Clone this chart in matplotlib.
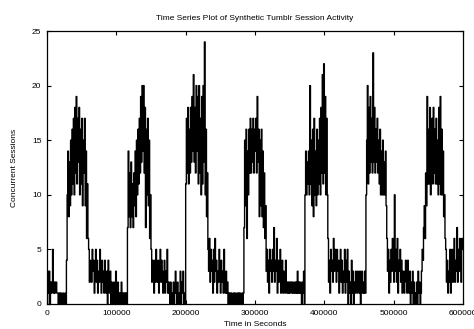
import numpy as np
import matplotlib
matplotlib.use("Agg")
import matplotlib.pyplot as plt

# Sampling interval of the synthetic session trace (seconds)
sample_interval = 1000

# Concurrent sessions, one value per 1000 s
low0 = [0, 1, 3, 3, 0, 2, 1, 2, 5, 1, 2, 1, 2, 2, 1, 1, 0, 1, 1, 0, 1, 0, 0, 1, 0, 0, 1, 0]
peak1 = [4, 10, 14, 8, 13, 9, 15, 10, 16, 11, 17, 10, 18, 12, 19, 11, 17, 13, 18, 10,
         16, 11, 17, 9, 15, 12, 17, 9, 14, 6, 11, 6]
low1 = [5, 2, 4, 3, 2, 5, 3, 4, 1, 3, 5, 2, 4, 1, 3, 2, 5, 3, 1, 4, 2, 3, 1, 4, 2, 1, 3, 0,
        4, 2, 1, 3, 0, 2, 1, 0, 2, 1, 0, 3, 1, 0, 2, 1, 0, 1, 0, 2, 1, 0, 1, 0, 1, 0, 1, 0]
peak2 = [7, 14, 8, 12, 7, 13, 8, 11, 7, 12, 9, 14, 8, 15, 10, 16, 11, 17, 12, 19,
         13, 20, 14, 20, 12, 18, 7, 16, 10, 17, 9, 15, 6, 10]
low2 = [5, 2, 4, 3, 1, 4, 2, 5, 3, 2, 4, 1, 3, 5, 2, 4, 3, 1, 2, 4, 1, 3, 2, 5, 1,
        2, 1, 0, 2, 1, 0, 1, 2, 0, 1, 3, 1, 0, 2, 1, 0, 1, 3, 0, 2, 1, 3, 0, 1, 0]
peak3 = [11, 17, 12, 18, 11, 16, 12, 18, 13, 19, 14, 21, 13, 18, 12, 20, 14, 19, 11, 20,
         12, 17, 10, 19, 11, 20, 13, 24, 10, 16, 8, 12]
low3 = [5, 3, 6, 2, 5, 3, 4, 1, 5, 2, 6, 3, 4, 1, 3, 2, 5, 3, 1, 4, 2, 3, 1, 5, 2, 1,
        3, 1, 2, 0, 1, 0, 1, 0, 1, 0, 0, 1, 0, 1, 0, 0, 1, 0, 1, 0, 1, 0, 0, 1, 0, 1]
peak4 = [7, 15, 9, 16, 6, 14, 10, 16, 12, 17, 12, 16, 13, 17, 12, 16, 14, 17, 12, 19,
         13, 16, 8, 15, 9, 16, 8, 14, 7, 12, 6, 9]
low4 = [3, 5, 2, 4, 1, 5, 3, 4, 2, 5, 3, 7, 2, 4, 3, 6, 1, 4, 2, 3, 5, 1, 2, 4, 1, 3, 2, 1,
        4, 2, 1, 2, 1, 2, 1, 2, 2, 1, 2, 1, 1, 2, 1, 2, 1, 3, 1, 2, 1, 2, 1, 0, 2, 1, 3, 0]
peak5 = [10, 14, 10, 13, 11, 14, 10, 20, 11, 15, 9, 16, 8, 17, 10, 14, 9, 16, 10, 15,
         11, 17, 10, 18, 12, 21, 11, 22, 12, 19, 10, 17, 10, 6]
low5 = [2, 4, 1, 5, 3, 4, 2, 6, 3, 5, 4, 2, 5, 3, 4, 1, 3, 5, 2, 4, 1, 3, 2, 5, 1, 4, 2,
        5, 0, 3, 1, 2, 0, 4, 1, 3, 0, 2, 1, 3, 2, 1, 3, 2, 1, 3, 0, 2, 3, 1, 2, 1, 3, 1]
peak6 = [10, 15, 20, 11, 18, 12, 19, 13, 17, 12, 23, 13, 18, 12, 16, 13, 17, 12, 15, 11,
         16, 10, 14, 10, 15, 10, 13, 10, 14, 9]
low6 = [6, 3, 5, 1, 4, 2, 5, 3, 6, 4, 2, 10, 3, 5, 2, 6, 1, 4, 3, 5, 2, 4, 1, 3, 2,
        1, 3, 4, 2, 1, 4, 2, 1, 3, 0, 2, 1, 3, 0, 2, 1, 0, 1, 2, 0, 3, 1, 2, 0, 1]
peak7 = [3, 5, 4, 7, 9, 6, 12, 9, 19, 11, 16, 11, 18, 10, 14, 17, 11, 18, 12, 16,
         11, 17, 11, 15, 10, 18, 11, 19, 10, 16, 10, 14, 8, 10, 6, 5]
low7 = [2, 4, 1, 3, 2, 5, 1, 3, 5, 2, 4, 6, 2, 4, 3, 7, 2, 5, 3, 6, 4, 2, 6, 5]

segments = [low0, peak1, low1, peak2, low2, peak3, low3, peak4,
            low4, peak5, low5, peak6, low6, peak7, low7]
sessions = np.concatenate([np.asarray(s, dtype=float) for s in segments])
times = np.arange(len(sessions) + 1) * sample_interval
sessions_plot = np.append(sessions, sessions[-1])

x_ticks = [0, 100000, 200000, 300000, 400000, 500000, 600000]
y_ticks = [0, 5, 10, 15, 20, 25]

plt.rcParams['font.family'] = ['Liberation Sans', 'DejaVu Sans']

fig = plt.figure(figsize=(4.74, 3.29), dpi=100)
ax = fig.add_axes([47 / 474, 1 - 304 / 329, (463 - 47) / 474, (304 - 31) / 329])

ax.plot(times, sessions_plot, drawstyle='steps-post', color='black', linewidth=1.0)

ax.set_xlim(0, 600000)
ax.set_ylim(0, 25)
ax.set_xticks(x_ticks)
ax.set_xticklabels([str(v) for v in x_ticks])
ax.set_yticks(y_ticks)
ax.set_yticklabels([str(v) for v in y_ticks])
ax.tick_params(direction='in', length=3, width=0.8, top=True, right=True,
               labelsize=6, pad=4)
for sp in ax.spines.values():
    sp.set_linewidth(0.9)

ax.set_title('Time Series Plot of Synthetic Tumblr Session Activity',
             fontsize=6, pad=8)
ax.set_xlabel('Time in Seconds', fontsize=6, labelpad=3)
ax.set_ylabel('Concurrent Sessions', fontsize=6, labelpad=10)

fig.savefig('out.png', dpi=100)
